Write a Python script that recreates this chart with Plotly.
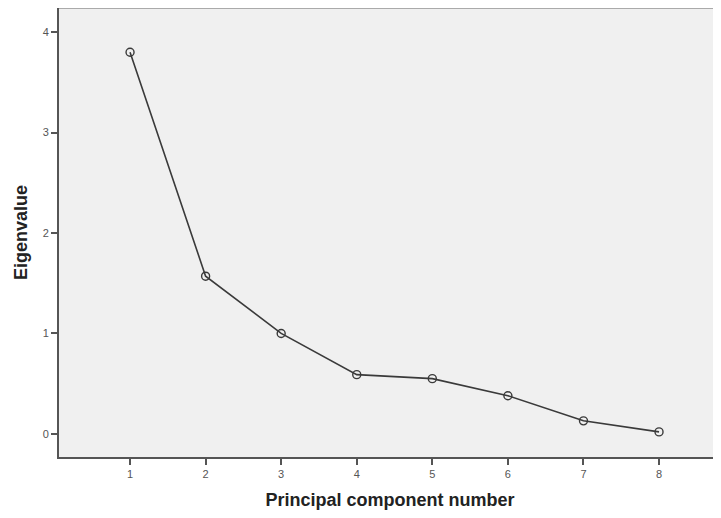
import plotly.graph_objects as go

components = [1, 2, 3, 4, 5, 6, 7, 8]
eigenvalues = [3.80, 1.57, 1.00, 0.59, 0.55, 0.38, 0.13, 0.02]
y_ticks = [0, 1, 2, 3, 4]

fig = go.Figure()
fig.add_trace(go.Scatter(
    x=components, y=eigenvalues, mode="lines+markers",
    line=dict(color="#3a3a3a", width=1.6),
    marker=dict(symbol="circle-open", size=8, color="#3a3a3a", line=dict(width=1.4)),
    showlegend=False,
))

# top border line
fig.add_shape(type="line", xref="paper", yref="paper", x0=0, x1=1, y0=1, y1=1,
              line=dict(color="#aaaaaa", width=2))

fig.update_layout(
    width=713, height=510,
    margin=dict(l=51, r=0, t=0, b=61),
    paper_bgcolor="white", plot_bgcolor="#f0f0f0",
    font=dict(family="Liberation Sans, Arial, sans-serif", color="#555555"),
    xaxis=dict(
        range=[0.06, 8.82], tickvals=components, ticktext=[str(c) for c in components],
        showgrid=False, zeroline=False, showline=True, linecolor="#555555", linewidth=2,
        ticks="outside", ticklen=6, tickwidth=1.5, tickcolor="#555555",
        tickfont=dict(size=11, color="#555555"),
        title=dict(text="<b>Principal component number</b>", font=dict(size=18, color="#222222"), standoff=14),
    ),
    yaxis=dict(
        range=[-0.23, 4.24], tickvals=y_ticks,
        showgrid=False, zeroline=False, showline=True, linecolor="#555555", linewidth=2,
        ticks="outside", ticklen=6, tickwidth=1.5, tickcolor="#555555",
        tickfont=dict(size=11, color="#555555"),
        title=dict(text="<b>Eigenvalue</b>", font=dict(size=18, color="#222222"), standoff=10),
    ),
)

fig.write_html("out.html")
